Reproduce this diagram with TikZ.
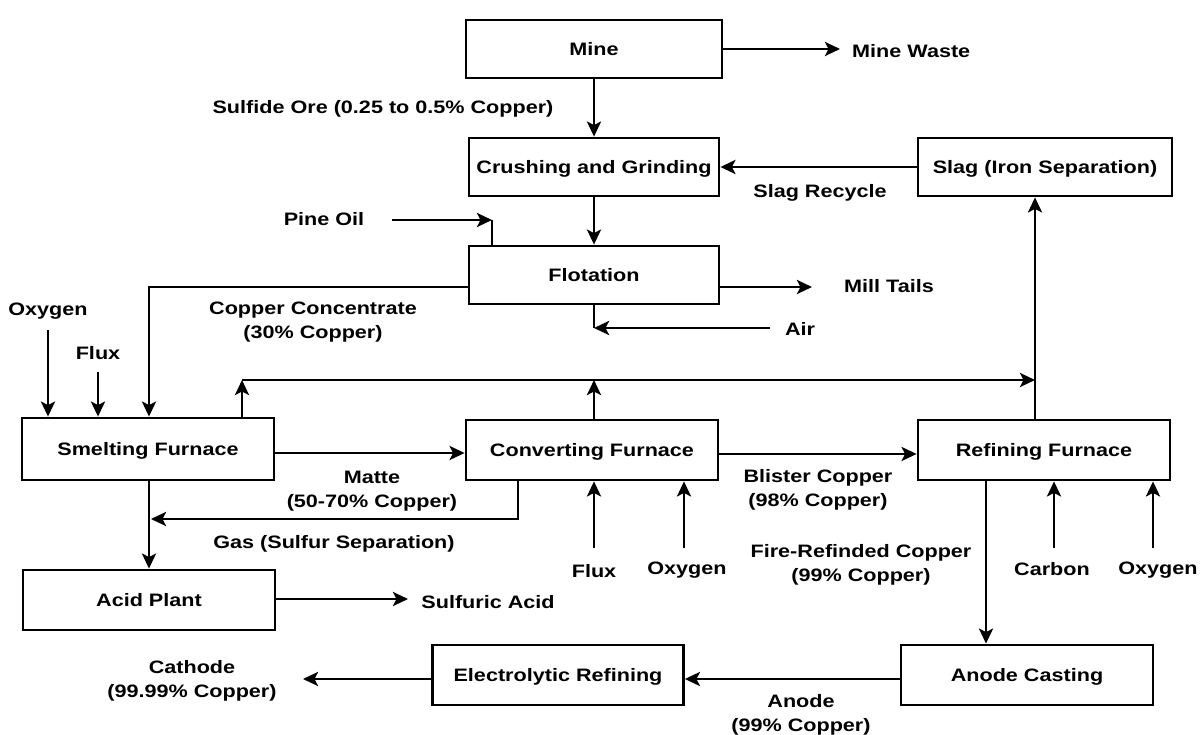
\documentclass[tikz,border=0pt]{standalone}
\usepackage{fontspec}
\setmainfont{Liberation Sans}[FakeStretch=1.2]
\usetikzlibrary{arrows.meta}
\begin{document}
\begin{tikzpicture}[x=1pt,y=-1pt,
  every node/.style={font=\bfseries\fontsize{18}{24}\selectfont, align=center, inner sep=0pt},
  box/.style={draw, line width=2.8pt, minimum width=252pt, minimum height=60pt, text height=13pt, text depth=0pt},
  arr/.style={line width=2.8pt, -{Stealth[length=15pt,width=14pt,inset=3.5pt]}},
  ln/.style={line width=2.8pt}]
\useasboundingbox[fill=white] (0,0) rectangle (1202,735);
% boxes
\node[box, minimum width=256pt, minimum height=58pt] (mine) at (594,49) {Mine};
\node[box, minimum width=250pt, minimum height=58pt] (crush) at (594,167) {Crushing and Grinding};
\node[box, minimum width=254pt, minimum height=58pt] (slag) at (1045,167) {Slag (Iron Separation)};
\node[box, minimum width=250pt, minimum height=58pt] (flot) at (594,275) {Flotation};
\node[box, minimum height=62pt] (smelt) at (148,449) {Smelting Furnace};
\node[box] (conv) at (592,450) {Converting Furnace};
\node[box] (ref) at (1044,450) {Refining Furnace};
\node[box] (acid) at (149,600) {Acid Plant};
\node[box, minimum width=251pt] (elec) at (558,675) {Electrolytic Refining};
\node[box] (anode) at (1027,675) {Anode Casting};
% labels
\node[anchor=west] (minew) at (852,51) {Mine Waste};
\node (sulf) at (383,109) {Sulfide Ore (0.25 to 0.5\% Copper)};
\node (slagrec) at (820,193) {Slag Recycle};
\node (pine) at (324,219) {Pine Oil};
\node (mill) at (889,286) {Mill Tails};
\node (air) at (800,329) {Air};
\node (conc) at (313,322) {Copper Concentrate\\(30\% Copper)};
\node (oxy1) at (48,311) {Oxygen};
\node (flux1) at (98,353) {Flux};
\node (matte) at (372,491) {Matte\\(50-70\% Copper)};
\node (gas) at (334,544) {Gas (Sulfur Separation)};
\node (sulfa) at (488,602) {Sulfuric Acid};
\node (flux2) at (594,571) {Flux};
\node (oxy2) at (687,570) {Oxygen};
\node (blister) at (818,490) {Blister Copper\\(98\% Copper)};
\node (fire) at (861,565) {Fire-Refinded Copper\\(99\% Copper)};
\node (carbon) at (1052,569) {Carbon};
\node (oxy3) at (1158,570) {Oxygen};
\node (anodel) at (801,715) {Anode\\(99\% Copper)};
\node (cath) at (192,681) {Cathode\\(99.99\% Copper)};
% coordinates
\coordinate (mwE) at (840,49);
\coordinate (pineS) at (392,220);
\coordinate (pineC) at (492,220);
\coordinate (fc) at (149,287);
\coordinate (o1) at (48,330);
\coordinate (f1) at (98,372);
\coordinate (u1) at (242,380);
\coordinate (u2) at (594,380);
\coordinate (u3) at (1035,380);
\coordinate (mt) at (812,287);
\coordinate (airS) at (770,328);
\coordinate (airE) at (594,328);
\coordinate (mt1) at (0,453);
\coordinate (g) at (518,519);
\coordinate (gE) at (151,519);
\coordinate (sa) at (408,599);
\coordinate (f2) at (594,548);
\coordinate (o2) at (684,548);
\coordinate (bl) at (0,454);
\coordinate (ra) at (986,0);
\coordinate (c3) at (1054,548);
\coordinate (o3) at (1153,548);
\coordinate (an) at (0,679);
\coordinate (ca) at (303,679);
% connectors
\draw[arr] (mine.east) -- (mwE);
\draw[arr] (mine) -- (crush);
\draw[arr] (slag) -- (crush);
\draw[arr] (crush) -- (flot);
\draw[arr] (pineS) -- (pineC);
\draw[ln] (pineC) -- (pineC |- flot.north);
\draw[arr] (flot.west |- fc) -| (smelt.north -| fc);
\draw[arr] (o1) -- (o1 |- smelt.north);
\draw[arr] (f1) -- (f1 |- smelt.north);
\draw[arr] (u1 |- smelt.north) -- (u1);
\draw[arr] (u2 |- conv.north) -- (u2);
\draw[arr] (u1) -- (u3);
\draw[arr] (u3 |- ref.north) -- (u3 |- slag.south);
\draw[arr] (flot.east |- mt) -- (mt);
\draw[arr] (airS) -- (airE);
\draw[ln] (airE |- flot.south) -- (airE);
\draw[arr] (smelt.east |- mt1) -- (conv.west |- mt1);
\draw[arr] (g |- conv.south) |- (gE);
\draw[arr] (smelt.south -| fc) -- (acid.north -| fc);
\draw[arr] (acid.east |- sa) -- (sa);
\draw[arr] (f2) -- (f2 |- conv.south);
\draw[arr] (o2) -- (o2 |- conv.south);
\draw[arr] (conv.east |- bl) -- (ref.west |- bl);
\draw[arr] (ref.south -| ra) -- (anode.north -| ra);
\draw[arr] (c3) -- (c3 |- ref.south);
\draw[arr] (o3) -- (o3 |- ref.south);
\draw[arr] (anode.west |- an) -- (elec.east |- an);
\draw[arr] (elec.west |- ca) -- (ca);
\end{tikzpicture}
\end{document}
